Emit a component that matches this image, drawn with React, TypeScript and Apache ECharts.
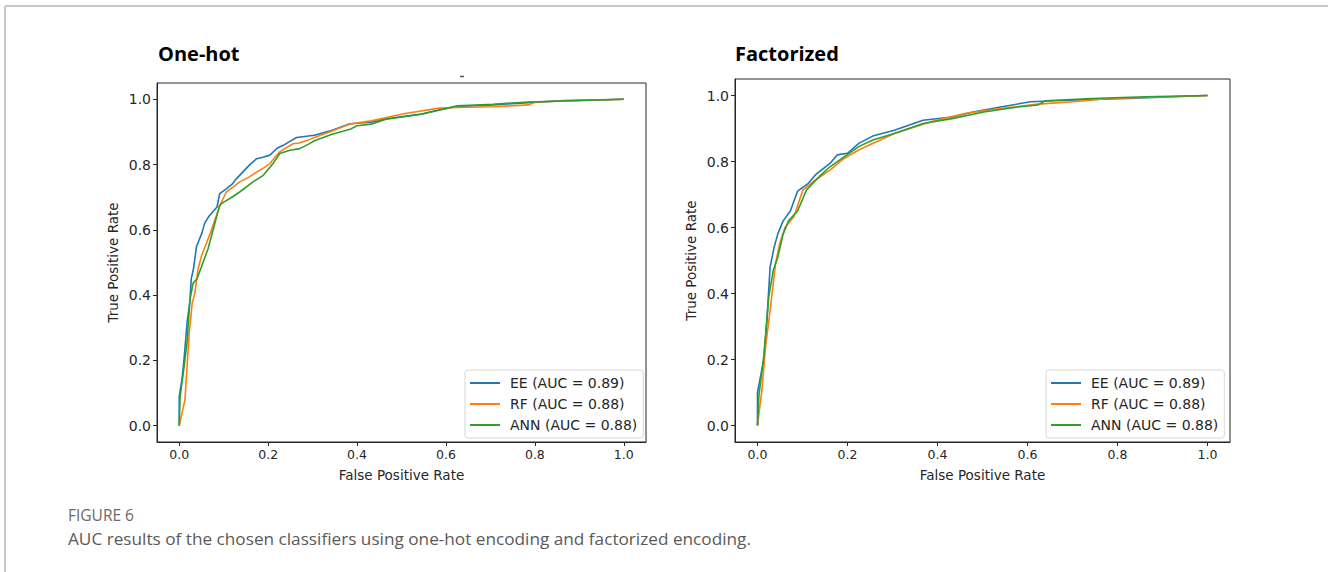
import React, { useEffect, useRef } from "react";
import * as echarts from "echarts";

// ---------- data (FPR, TPR) ----------
const seriesNames = ["EE (AUC = 0.89)", "RF (AUC = 0.88)", "ANN (AUC = 0.88)"];
const seriesColors = ["#1f77b4", "#ff7f0e", "#2ca02c"];
const panelTitles = ["One-hot", "Factorized"];
const tickValues = [0, 0.2, 0.4, 0.6, 0.8, 1.0];

const oneHotEE: [number, number][] = [
  [0, 0], [0, 0.09], [0.006, 0.14], [0.01, 0.19], [0.018, 0.32], [0.024, 0.38], [0.027, 0.45],
  [0.032, 0.48], [0.039, 0.55], [0.051, 0.59], [0.057, 0.62], [0.066, 0.64], [0.075, 0.655],
  [0.085, 0.67], [0.091, 0.711], [0.105, 0.725], [0.119, 0.74], [0.129, 0.757], [0.145, 0.78],
  [0.159, 0.8], [0.174, 0.818], [0.19, 0.823], [0.204, 0.829], [0.22, 0.85], [0.234, 0.859],
  [0.25, 0.872], [0.264, 0.883], [0.304, 0.89], [0.344, 0.905], [0.384, 0.925], [0.432, 0.93],
  [0.465, 0.94], [0.545, 0.955], [0.593, 0.97], [0.625, 0.978], [0.706, 0.983], [0.786, 0.99],
  [0.866, 0.996], [1, 1],
];
const oneHotRF: [number, number][] = [
  [0, 0], [0.013, 0.08], [0.018, 0.19], [0.023, 0.29], [0.029, 0.374], [0.035, 0.405],
  [0.042, 0.477], [0.05, 0.52], [0.061, 0.558], [0.07, 0.59], [0.08, 0.63], [0.095, 0.686],
  [0.106, 0.716], [0.12, 0.73], [0.136, 0.747], [0.155, 0.76], [0.174, 0.777], [0.19, 0.79],
  [0.204, 0.803], [0.226, 0.839], [0.256, 0.864], [0.27, 0.866], [0.29, 0.875], [0.304, 0.883],
  [0.344, 0.903], [0.384, 0.924], [0.432, 0.934], [0.505, 0.956], [0.585, 0.973], [0.625, 0.975],
  [0.706, 0.977], [0.786, 0.983], [0.802, 0.992], [0.866, 0.995], [1, 1],
];
const oneHotANN: [number, number][] = [
  [0, 0], [0.002, 0.09], [0.01, 0.17], [0.018, 0.26], [0.024, 0.385], [0.031, 0.436], [0.04, 0.45],
  [0.05, 0.487], [0.065, 0.543], [0.076, 0.599], [0.087, 0.655], [0.091, 0.676], [0.1, 0.685],
  [0.114, 0.696], [0.136, 0.716], [0.166, 0.747], [0.189, 0.767], [0.211, 0.803], [0.226, 0.834],
  [0.249, 0.844], [0.271, 0.849], [0.29, 0.862], [0.304, 0.873], [0.344, 0.893], [0.384, 0.908],
  [0.4, 0.919], [0.432, 0.924], [0.465, 0.939], [0.545, 0.954], [0.625, 0.98], [0.706, 0.985],
  [0.786, 0.992], [1, 1],
];

const factEE: [number, number][] = [
  [0, 0], [0, 0.1], [0.014, 0.2], [0.021, 0.32], [0.028, 0.48], [0.037, 0.54], [0.045, 0.58],
  [0.057, 0.62], [0.073, 0.65], [0.089, 0.71], [0.113, 0.734], [0.129, 0.76], [0.161, 0.794],
  [0.177, 0.82], [0.2, 0.825], [0.225, 0.855], [0.256, 0.877], [0.304, 0.895], [0.368, 0.925],
  [0.432, 0.935], [0.479, 0.95], [0.543, 0.966], [0.607, 0.981], [0.662, 0.984], [0.742, 0.988],
  [0.822, 0.991], [1, 1],
];
const factRF: [number, number][] = [
  [0, 0], [0.01, 0.11], [0.018, 0.24], [0.029, 0.36], [0.04, 0.49], [0.049, 0.55], [0.061, 0.6],
  [0.081, 0.633], [0.101, 0.714], [0.129, 0.744], [0.161, 0.774], [0.193, 0.81], [0.225, 0.835],
  [0.264, 0.86], [0.304, 0.885], [0.384, 0.92], [0.463, 0.946], [0.543, 0.961], [0.623, 0.974],
  [0.702, 0.981], [0.782, 0.991], [1, 1],
];
const factANN: [number, number][] = [
  [0, 0], [0.003, 0.09], [0.014, 0.21], [0.025, 0.39], [0.035, 0.47], [0.045, 0.51], [0.057, 0.58],
  [0.069, 0.62], [0.089, 0.65], [0.109, 0.714], [0.137, 0.754], [0.161, 0.784], [0.193, 0.815],
  [0.225, 0.845], [0.256, 0.865], [0.304, 0.885], [0.368, 0.915], [0.432, 0.93], [0.503, 0.95],
  [0.583, 0.966], [0.623, 0.971], [0.639, 0.984], [0.742, 0.991], [0.862, 0.996], [1, 1],
];

const panels = [
  [oneHotEE, oneHotRF, oneHotANN],
  [factEE, factRF, factANN],
];

const captionLabel = "FIGURE 6";
const captionText = "AUC results of the chosen classifiers using one-hot encoding and factorized encoding.";
const xAxisTitle = "False Positive Rate";
const yAxisTitle = "True Positive Rate";

// ---------- layout ----------
const grids = [
  { left: 157, top: 83, width: 489, height: 359 },
  { left: 735, top: 79, width: 495, height: 363 },
];
const legendPos = [
  { left: 465, top: 370 },
  { left: 1046, top: 370 },
];
const titlePos = [
  { x: 158, y: 53 },
  { x: 735, y: 53 },
];

const AX = "#262626";
const MONO = "DejaVu Sans";

export default function App() {
  const ref = useRef<HTMLDivElement>(null);
  useEffect(() => {
    if (!ref.current) return;
    const chart = echarts.init(ref.current, undefined, { renderer: "svg" });

    const xAxes = grids.map((_, i) => ({
      type: "value",
      gridIndex: i,
      min: -0.05,
      max: 1.05,
      name: xAxisTitle,
      nameLocation: "middle",
      nameGap: 26,
      nameTextStyle: { fontFamily: MONO, fontSize: 13.5, color: AX },
      axisLine: { show: true, onZero: false, lineStyle: { color: AX, width: 1 } },
      axisTick: { show: true, inside: false, length: 4, customValues: tickValues, lineStyle: { color: AX } },
      axisLabel: {
        customValues: tickValues,
        formatter: (v: number) => v.toFixed(1),
        fontFamily: MONO,
        fontSize: 12.5,
        color: AX,
        margin: 6,
      },
      splitLine: { show: false },
    }));
    const yAxes = grids.map((_, i) => ({
      type: "value",
      gridIndex: i,
      min: -0.05,
      max: 1.05,
      name: yAxisTitle,
      nameLocation: "middle",
      nameGap: 37,
      nameTextStyle: { fontFamily: MONO, fontSize: 13.5, color: AX },
      axisLine: { show: true, onZero: false, lineStyle: { color: AX, width: 1 } },
      axisTick: { show: true, inside: false, length: 4, customValues: tickValues, lineStyle: { color: AX } },
      axisLabel: {
        customValues: tickValues,
        formatter: (v: number) => v.toFixed(1),
        fontFamily: MONO,
        fontSize: 14,
        color: AX,
        margin: 6,
      },
      splitLine: { show: false },
    }));

    const series: any[] = [];
    panels.forEach((curves, p) => {
      curves.forEach((data, k) => {
        series.push({
          type: "line",
          name: seriesNames[k],
          xAxisIndex: p,
          yAxisIndex: p,
          data,
          symbol: "none",
          showSymbol: false,
          lineStyle: { color: seriesColors[k], width: 1.6 },
          itemStyle: { color: seriesColors[k] },
          z: 3 + k,
        });
      });
    });

    const legends = legendPos.map((pos) => ({
      show: true,
      data: seriesNames,
      left: pos.left,
      top: pos.top,
      orient: "vertical",
      icon: "rect",
      itemWidth: 30,
      itemHeight: 2,
      itemGap: 7,
      padding: [6, 6, 6, 5],
      backgroundColor: "rgba(255,255,255,0.85)",
      borderColor: "#d6d6d6",
      borderWidth: 1,
      borderRadius: 3,
      selectedMode: false,
      textStyle: { fontFamily: MONO, fontSize: 14, color: AX, padding: [0, 0, 0, 5] },
    }));

    const graphic: any[] = [
      // outer frame (top and left edges visible)
      { type: "line", shape: { x1: 5, y1: 6, x2: 1328, y2: 6 }, style: { stroke: "#c8c8c8", lineWidth: 2 } },
      { type: "line", shape: { x1: 5, y1: 6, x2: 5, y2: 572 }, style: { stroke: "#c8c8c8", lineWidth: 2 } },
      // small tick artifact above left panel
      { type: "line", shape: { x1: 460, y1: 76.5, x2: 464, y2: 76.5 }, style: { stroke: "#555", lineWidth: 1.5 } },
      ...panelTitles.map((t, i) => ({
        type: "text",
        x: titlePos[i].x,
        y: titlePos[i].y,
        style: {
          text: t,
          fontFamily: "Open Sans",
          fontWeight: "bold",
          fontSize: 20,
          fill: "#000",
          verticalAlign: "middle",
          align: "left",
        },
      })),
      {
        type: "text",
        x: 68,
        y: 515,
        style: { text: captionLabel, fontFamily: "Open Sans", fontSize: 15.5, fill: "#6b6b6b", verticalAlign: "middle" },
      },
      {
        type: "text",
        x: 68,
        y: 538,
        style: { text: captionText, fontFamily: "Open Sans", fontSize: 17.2, fill: "#5a5a5a", verticalAlign: "middle" },
      },
    ];

    chart.setOption({
      animation: false,
      backgroundColor: "#fff",
      grid: grids.map((g) => ({
        ...g,
        show: true,
        borderColor: AX,
        borderWidth: 1,
        backgroundColor: "transparent",
        containLabel: false,
        outerBoundsMode: "none",
      })),
      xAxis: xAxes,
      yAxis: yAxes,
      legend: legends,
      series,
      graphic,
    });

    return () => chart.dispose();
  }, []);

  return (
    <div
      ref={ref}
      style={{ position: "fixed", left: 0, top: 0, width: 1328, height: 572, background: "#fff" }}
    />
  );
}
